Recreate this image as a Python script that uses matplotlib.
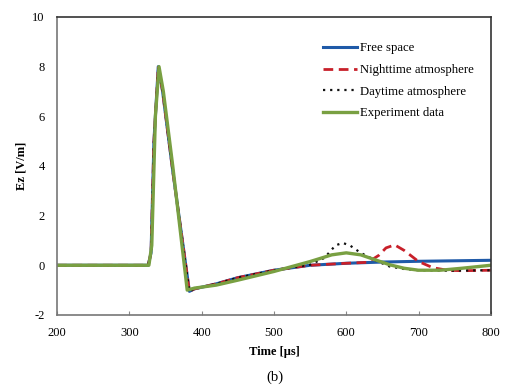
import numpy as np
import matplotlib
matplotlib.use('Agg')
import matplotlib.pyplot as plt

plt.rcParams.update({'font.family': 'Liberation Serif', 'font.size': 8,
                     'axes.unicode_minus': False})

# time axis (us) shared by the simulated curves
t_sim = [200, 326, 330, 334, 340, 346, 360, 383, 390, 420, 450, 500, 550, 600, 650, 700, 750, 800]
free_space = [0, 0, 0.5, 5.0, 8.0, 7.0, 3.8, -1.05, -0.95, -0.75, -0.5, -0.2, 0.0, 0.08, 0.13, 0.16, 0.18, 0.2]

t_night = [200, 326, 330, 334, 340, 346, 360, 383, 390, 420, 450, 500, 550, 600, 630, 645, 655, 667, 680, 700, 720, 740, 760, 800]
night = [0, 0, 0.5, 5.0, 8.0, 7.0, 3.8, -1.05, -0.95, -0.75, -0.5, -0.2, 0.0, 0.08, 0.12, 0.4, 0.7, 0.82, 0.6, 0.15, -0.1, -0.2, -0.22, -0.2]

t_day = [200, 326, 330, 334, 340, 346, 360, 383, 390, 420, 450, 500, 550, 570, 585, 595, 605, 620, 640, 660, 680, 700, 740, 800]
day = [0, 0, 0.5, 5.0, 8.0, 7.0, 3.8, -1.05, -0.95, -0.75, -0.5, -0.2, 0.02, 0.3, 0.8, 0.9, 0.8, 0.5, 0.2, -0.05, -0.15, -0.2, -0.22, -0.2]

t_exp = [200, 327, 331, 336, 341, 347, 360, 380, 390, 420, 450, 500, 550, 580, 600, 620, 640, 660, 680, 700, 730, 760, 800]
experiment = [0, 0, 0.8, 6.0, 8.0, 7.0, 4.0, -1.0, -0.92, -0.8, -0.6, -0.25, 0.15, 0.42, 0.5, 0.42, 0.22, 0.02, -0.12, -0.2, -0.2, -0.12, 0.0]

fig = plt.figure(figsize=(5.05, 3.85), dpi=100)
ax = fig.add_axes([0.113, 0.182, 0.859, 0.774])

ax.plot(t_sim, free_space, color='#1f5aa8', lw=2.2, label='Free space')
ax.plot(t_night, night, color='#c8202a', lw=2.0, ls=(0, (3.5, 2)), label='Nighttime atmosphere')
ax.plot(t_day, day, color='#111111', lw=1.6, ls=(0, (1, 2.2)), label='Daytime atmosphere')
ax.plot(t_exp, experiment, color='#79a042', lw=2.4, label='Experiment data')

ax.set_xlim(200, 800)
ax.set_ylim(-2, 10)
ax.set_xticks(range(200, 801, 100))
ax.set_yticks(range(-2, 11, 2))
ax.tick_params(axis='x', direction='in', length=3, color='#888888', labelsize=9, pad=9)
ax.tick_params(axis='y', length=0, labelsize=9, pad=9)
for s in ax.spines.values():
    s.set_color('#333333')
    s.set_linewidth(1.2)
ax.spines['bottom'].set_color('#777777')
ax.spines['left'].set_color('#777777')

ax.set_xlabel('Time [\u03bcs]', fontsize=9, fontweight='bold', labelpad=5)
ax.set_ylabel('Ez [V/m]', fontsize=9, fontweight='bold', labelpad=3)

ax.legend(loc='upper left', bbox_to_anchor=(0.613, 0.915), frameon=False, fontsize=9.2,
          borderpad=0, borderaxespad=0,
          handlelength=2.65, handletextpad=0.25, labelspacing=0.76)

fig.text(0.545, 0.003, '(b)', ha='center', va='bottom', fontsize=10.5)

fig.savefig('out.png', dpi=100)
